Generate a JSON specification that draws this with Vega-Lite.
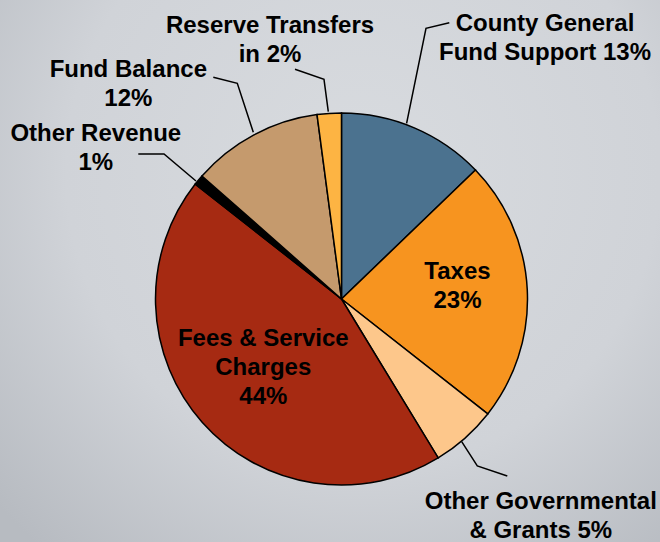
{
  "$schema": "https://vega.github.io/schema/vega-lite/v6.json",
  "width": 660,
  "height": 542,
  "autosize": {"type": "none"},
  "padding": 0,
  "background": "#c9ccd1",
  "config": {
    "font": "Liberation Sans",
    "view": {
      "stroke": null,
      "fill": {
        "gradient": "radial",
        "x1": 0.55, "y1": 0.35, "r1": 0,
        "x2": 0.55, "y2": 0.35, "r2": 0.75,
        "stops": [
          {"offset": 0, "color": "#d8dbdf"},
          {"offset": 0.6, "color": "#d0d3d8"},
          {"offset": 1, "color": "#b7bbc1"}
        ]
      }
    }
  },
  "datasets": {
    "slices": [
      {"name": "County General Fund Support", "value": 12.8, "idx": 1},
      {"name": "Taxes", "value": 22.8, "idx": 2},
      {"name": "Other Governmental & Grants", "value": 5.7, "idx": 3},
      {"name": "Fees & Service Charges", "value": 44.3, "idx": 4},
      {"name": "Other Revenue", "value": 0.9, "idx": 5},
      {"name": "Fund Balance", "value": 11.4, "idx": 6},
      {"name": "Reserve Transfers in", "value": 2.1, "idx": 7}
    ],
    "labels": [
      {"t": "County General\nFund Support 13%", "lx": 1.0941, "ly": 1.4382},
      {"t": "Reserve Transfers\nin 2%", "lx": -0.3844, "ly": 1.4301},
      {"t": "Fund Balance\n12%", "lx": -1.1462, "ly": 1.1952},
      {"t": "Other Revenue\n1%", "lx": -1.321, "ly": 0.8511},
      {"t": "Other Governmental\n& Grants 5%", "lx": 1.0715, "ly": -1.1306},
      {"t": "Taxes\n23%", "lx": 0.6237, "ly": 0.1059},
      {"t": "Fees & Service\nCharges\n44%", "lx": -0.4204, "ly": -0.2511}
    ],
    "leaders": [
      {"grp": "County", "seq": 1, "lx": 0.35, "ly": 0.9446},
      {"grp": "County", "seq": 2, "lx": 0.4543, "ly": 1.4554},
      {"grp": "County", "seq": 3, "lx": 0.5796, "ly": 1.4855},
      {"grp": "Reserve", "seq": 1, "lx": -0.071, "ly": 1.007},
      {"grp": "Reserve", "seq": 2, "lx": -0.0941, "ly": 1.1812},
      {"grp": "Reserve", "seq": 3, "lx": -0.25, "ly": 1.2349},
      {"grp": "Fund", "seq": 1, "lx": -0.4742, "ly": 0.8962},
      {"grp": "Fund", "seq": 2, "lx": -0.5602, "ly": 1.1597},
      {"grp": "Fund", "seq": 3, "lx": -0.6892, "ly": 1.1919},
      {"grp": "Other", "seq": 1, "lx": -0.7823, "ly": 0.6344},
      {"grp": "Other", "seq": 2, "lx": -0.9543, "ly": 0.7796},
      {"grp": "Other", "seq": 3, "lx": -1.0925, "ly": 0.7796},
      {"grp": "Gov", "seq": 1, "lx": 0.6462, "ly": -0.7672},
      {"grp": "Gov", "seq": 2, "lx": 0.7301, "ly": -0.8978},
      {"grp": "Gov", "seq": 3, "lx": 0.8914, "ly": -0.9516}
    ]
  },
  "layer": [
    {
      "data": {"name": "slices"},
      "mark": {"type": "arc", "radius": 186, "stroke": "#000000", "strokeWidth": 1.5},
      "encoding": {
        "theta": {"field": "value", "type": "quantitative", "stack": true},
        "order": {"field": "idx", "type": "quantitative"},
        "color": {
          "field": "name",
          "type": "nominal",
          "legend": null,
          "scale": {
            "domain": ["County General Fund Support", "Taxes", "Other Governmental & Grants", "Fees & Service Charges", "Other Revenue", "Fund Balance", "Reserve Transfers in"],
            "range": ["#4b728f", "#f7941f", "#fdc78b", "#a62a12", "#000000", "#c59a6d", "#fdb443"]
          }
        },
        "x": {"datum": 0, "type": "quantitative", "scale": {"domain": [-1.836, 1.7124], "nice": false, "zero": false}, "axis": null},
        "y": {"datum": 0, "type": "quantitative", "scale": {"domain": [-1.3065, 1.6075], "nice": false, "zero": false}, "axis": null}
      }
    },
    {
      "data": {"name": "leaders"},
      "mark": {"type": "line", "stroke": "#000000", "strokeWidth": 1.5},
      "encoding": {
        "x": {"field": "lx", "type": "quantitative", "scale": {"domain": [-1.836, 1.7124], "nice": false, "zero": false}, "axis": null},
        "y": {"field": "ly", "type": "quantitative", "scale": {"domain": [-1.3065, 1.6075], "nice": false, "zero": false}, "axis": null},
        "detail": {"field": "grp", "type": "nominal"},
        "order": {"field": "seq", "type": "quantitative"}
      }
    },
    {
      "data": {"name": "labels"},
      "mark": {"type": "text", "fontSize": 24, "fontWeight": "bold", "lineBreak": "\n", "lineHeight": 29, "align": "center", "baseline": "alphabetic", "color": "#000000"},
      "encoding": {
        "x": {"field": "lx", "type": "quantitative", "scale": {"domain": [-1.836, 1.7124], "nice": false, "zero": false}, "axis": null},
        "y": {"field": "ly", "type": "quantitative", "scale": {"domain": [-1.3065, 1.6075], "nice": false, "zero": false}, "axis": null},
        "text": {"field": "t", "type": "nominal"}
      }
    }
  ]
}
